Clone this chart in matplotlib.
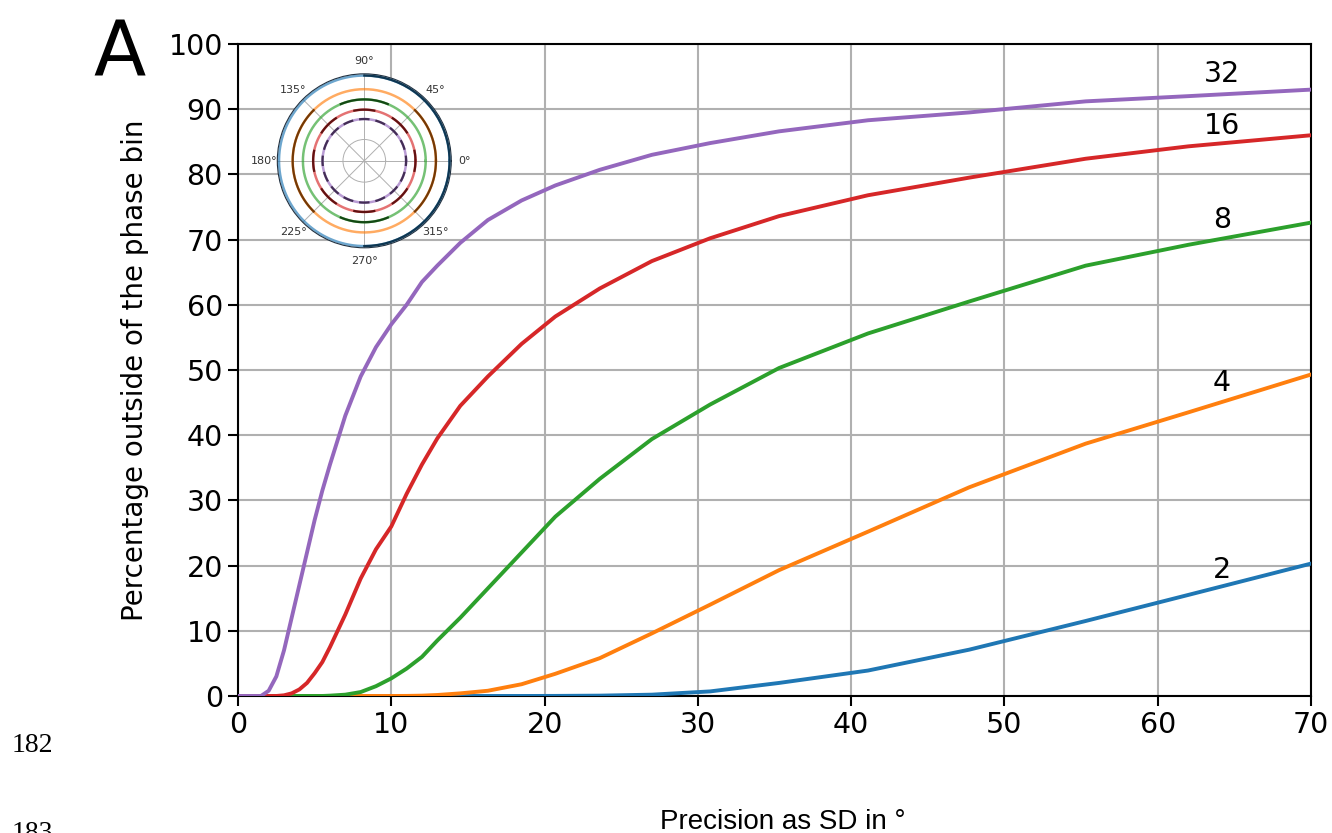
import numpy as np
import matplotlib.pyplot as plt
import matplotlib.colors as mcolors

# --- Data ---
sd_deg = [0, 1, 1.5, 2, 2.5, 3, 3.5, 4, 4.5, 5, 5.5, 6, 7, 8, 9, 10, 11, 12, 13,
          14.5, 16.3, 18.5, 20.7, 23.6, 27, 30.8, 35.3, 41.1, 47.7, 55.3, 62, 70]

pct_2 = [0, 0, 0, 0, 0, 0, 0, 0, 0, 0, 0, 0, 0, 0, 0, 0, 0, 0, 0,
         0, 0, 0, 0.01, 0.05, 0.2, 0.7, 2.0, 3.9, 7.1, 11.5, 15.5, 20.3]
pct_4 = [0, 0, 0, 0, 0, 0, 0, 0, 0, 0, 0, 0, 0, 0, 0, 0, 0.01, 0.05, 0.15,
         0.4, 0.8, 1.8, 3.4, 5.8, 9.6, 14.0, 19.3, 25.2, 32.0, 38.7, 43.5, 49.3]
pct_8 = [0, 0, 0, 0, 0, 0, 0, 0, 0, 0, 0, 0.05, 0.2, 0.6, 1.5, 2.7, 4.2, 6.0, 8.5,
         12.0, 16.5, 22.0, 27.5, 33.3, 39.4, 44.7, 50.3, 55.6, 60.5, 66.0, 69.2, 72.6]
pct_16 = [0, 0, 0, 0, 0, 0.1, 0.4, 1.0, 2.0, 3.5, 5.2, 7.5, 12.5, 18.0, 22.5, 26.0, 31.0, 35.5, 39.5,
          44.5, 49.0, 54.0, 58.2, 62.5, 66.7, 70.2, 73.6, 76.8, 79.5, 82.4, 84.3, 86.0]
pct_32 = [0, 0, 0, 0.8, 3.0, 7.0, 12.0, 17.0, 22.0, 27.0, 31.5, 35.5, 43.0, 49.0, 53.5, 57.0, 60.0, 63.5, 66.0,
          69.5, 73.0, 76.0, 78.3, 80.7, 83.0, 84.8, 86.6, 88.3, 89.5, 91.2, 92.0, 93.0]

bin_counts = ["2", "4", "8", "16", "32"]
label_x = [64.2, 64.2, 64.2, 64.2, 64.2]
label_y = [19.3, 48.0, 73.0, 87.4, 95.4]

colors = ["tab:blue", "tab:orange", "tab:green", "tab:red", "tab:purple"]

# inset rings: radius and dark (bin) segments in degrees
ring_r = [5.0, 4.2, 3.6, 3.0, 2.45]
ring_dark = [
    [(-90, 90)],
    [(-45, 45), (135, 225)],
    [(67.5, 112.5), (247.5, 292.5)],
    [(k * 22.5 - 11.25, k * 22.5 + 11.25) for k in range(0, 16, 2)],
    [(k * 11.25 - 5.625, k * 11.25 + 5.625) for k in range(0, 32, 2)],
]

# --- Plotting ---
fig = plt.figure(figsize=(13.32, 8.33), dpi=100)
ax = fig.add_axes([0.1787, 0.1645, 0.8055, 0.7827])

series = [pct_2, pct_4, pct_8, pct_16, pct_32]
for vals, c in zip(series, colors):
    ax.plot(sd_deg, vals, color=c, lw=2.8, zorder=3)

for txt, lx, ly in zip(bin_counts, label_x, label_y):
    ax.text(lx, ly, txt, fontsize=20.5, ha="center", va="center", zorder=4)

ax.set_xlim(0, 70)
ax.set_ylim(0, 100)
ax.set_xticks(range(0, 71, 10))
ax.set_yticks(range(0, 101, 10))
ax.grid(True, color="#b0b0b0", lw=1.5)
ax.set_axisbelow(True)
ax.tick_params(labelsize=20.5, length=7, width=1.5, pad=4)
for sp in ax.spines.values():
    sp.set_linewidth(1.5)

fig.text(135 / 1332, 1 - 370 / 833, "Percentage outside of the phase bin",
         rotation=90, fontsize=20, ha="center", va="center")
fig.text(783 / 1332, 1 - 829 / 833, "Precision as SD in °",
         fontsize=20, family="Liberation Sans", ha="center", va="baseline")
fig.text(120 / 1332, 1 - 75 / 833, "A", fontsize=55, ha="center", va="baseline")
fig.text(12 / 1332, 1 - 752 / 833, "182", fontsize=20, family="Liberation Serif",
         ha="left", va="baseline")
fig.text(12 / 1332, 1 - 840 / 833, "183", fontsize=20, family="Liberation Serif",
         ha="left", va="baseline")

# --- Inset polar plot with the phase bins ---
pax = fig.add_axes([0.2082, 0.7025, 0.1306, 0.2089], projection="polar")
theta = np.linspace(0, 2 * np.pi, 400)
for r, c, segs in zip(ring_r, colors, ring_dark):
    pax.plot(theta, np.full_like(theta, r), color=c, lw=1.8, alpha=0.65)
    dark = np.array(mcolors.to_rgb(c)) * 0.45
    for a0, a1 in segs:
        t = np.radians(np.linspace(a0, a1, 40))
        pax.plot(t, np.full_like(t, r), color=dark, lw=1.6)
pax.set_ylim(0, 5.1)
pax.set_yticks([1.25])
pax.set_yticklabels([])
pax.set_xticks(np.radians(np.arange(0, 360, 45)))
pax.set_xticklabels(["0°", "45°", "90°", "135°", "180°", "225°", "270°", "315°"])
pax.tick_params(labelsize=8, pad=-1, colors="#333333")
pax.grid(True, color="#b0b0b0", lw=0.7)
pax.spines["polar"].set_linewidth(0.8)
pax.spines["polar"].set_color("#203040")

fig.savefig("out.png", dpi=100)
